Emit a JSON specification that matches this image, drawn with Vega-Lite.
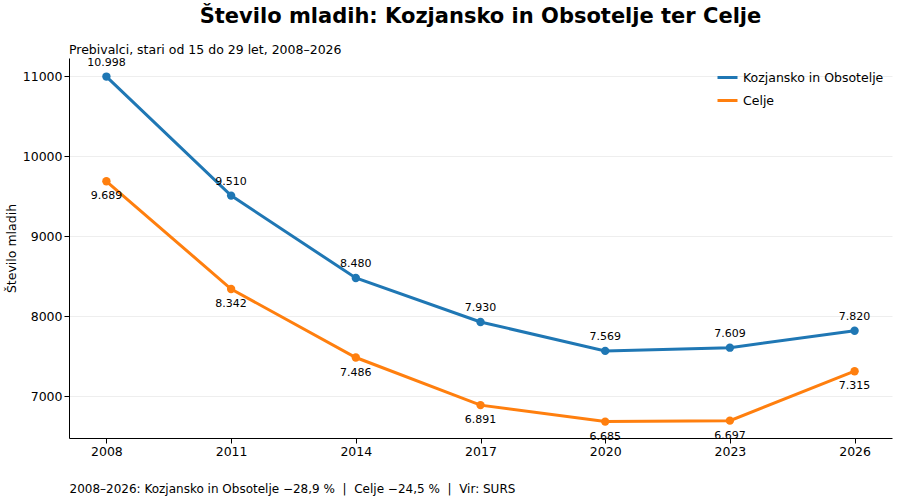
{
  "$schema": "https://vega.github.io/schema/vega-lite/v6.json",
  "width": 900,
  "height": 500,
  "autosize": {"type": "fit", "contains": "padding"},
  "padding": {"left": 5, "right": 8, "top": 6, "bottom": 5},
  "background": "white",
  "config": {
    "font": "DejaVu Sans",
    "view": {"stroke": null},
    "locale": {"number": {"decimal": ",", "thousands": ".", "grouping": [3], "currency": ["", " €"]}}
  },
  "title": {"text": "Število mladih: Kozjansko in Obsotelje ter Celje", "fontSize": 21, "fontWeight": "bold", "anchor": "middle", "offset": 17, "color": "black"},
  "data": {"values": [
    {"year": 2008, "area": "Kozjansko in Obsotelje", "n": 10998},
    {"year": 2011, "area": "Kozjansko in Obsotelje", "n": 9510},
    {"year": 2014, "area": "Kozjansko in Obsotelje", "n": 8480},
    {"year": 2017, "area": "Kozjansko in Obsotelje", "n": 7930},
    {"year": 2020, "area": "Kozjansko in Obsotelje", "n": 7569},
    {"year": 2023, "area": "Kozjansko in Obsotelje", "n": 7609},
    {"year": 2026, "area": "Kozjansko in Obsotelje", "n": 7820},
    {"year": 2008, "area": "Celje", "n": 9689},
    {"year": 2011, "area": "Celje", "n": 8342},
    {"year": 2014, "area": "Celje", "n": 7486},
    {"year": 2017, "area": "Celje", "n": 6891},
    {"year": 2020, "area": "Celje", "n": 6685},
    {"year": 2023, "area": "Celje", "n": 6697},
    {"year": 2026, "area": "Celje", "n": 7315}
  ]},
  "encoding": {
    "x": {"field": "year", "type": "quantitative", "scale": {"domain": [2007.1, 2026.9], "nice": false, "zero": false},
      "axis": {"values": [2008, 2011, 2014, 2017, 2020, 2023, 2026], "format": "d", "grid": false, "labelFontSize": 12.5, "labelColor": "black", "domainColor": "black", "tickColor": "black",
        "title": "2008–2026: Kozjansko in Obsotelje −28,9 %\u00a0\u00a0|\u00a0\u00a0Celje −24,5 %\u00a0\u00a0|\u00a0\u00a0Vir: SURS", "titleFontWeight": "normal", "titleFontSize": 12, "titleAnchor": "start", "titleAlign": "left", "titleX": 0, "titlePadding": 26, "titleColor": "black"}},
    "y": {"field": "n", "type": "quantitative", "scale": {"domain": [6480, 11230], "nice": false, "zero": false},
      "axis": {"values": [7000, 8000, 9000, 10000, 11000], "format": "d", "gridColor": "#eeeeee", "labelFontSize": 12.5, "labelColor": "black", "domainColor": "black", "tickColor": "black",
        "title": "Število mladih", "titleFontWeight": "normal", "titleFontSize": 12.5, "titleColor": "black"}},
    "color": {"field": "area", "type": "nominal", "sort": ["Kozjansko in Obsotelje", "Celje"],
      "scale": {"domain": ["Kozjansko in Obsotelje", "Celje"], "range": ["#1f77b4", "#ff7f0e"]},
      "legend": {"title": null, "orient": "top-right", "labelFontSize": 12.5, "labelColor": "black", "symbolType": "stroke", "symbolStrokeWidth": 3, "symbolSize": 400, "offset": 8, "rowPadding": 5}}
  },
  "layer": [
    {"mark": {"type": "line", "strokeWidth": 3, "point": {"filled": true, "size": 70}}},
    {"transform": [{"filter": "datum.area == 'Kozjansko in Obsotelje'"}],
      "mark": {"type": "text", "dy": -14, "fontSize": 11},
      "encoding": {"text": {"field": "n", "type": "quantitative", "format": ",.0f"}, "color": {"value": "black"}}},
    {"transform": [{"filter": "datum.area == 'Celje'"}],
      "mark": {"type": "text", "dy": 15, "fontSize": 11},
      "encoding": {"text": {"field": "n", "type": "quantitative", "format": ",.0f"}, "color": {"value": "black"}}},
    {"data": {"values": [{"t": "Prebivalci, stari od 15 do 29 let, 2008–2026"}]},
      "mark": {"type": "text", "align": "left", "baseline": "bottom", "fontSize": 12.5, "dy": -1},
      "encoding": {"text": {"field": "t"}, "x": {"value": 0}, "y": {"value": 0}, "color": {"value": "black"}}}
  ]
}
